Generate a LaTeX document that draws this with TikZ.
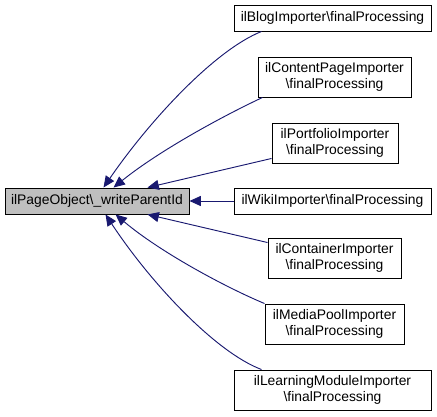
\documentclass[tikz,border=0pt]{standalone}
\usepackage{fontspec}
\setmainfont{Liberation Sans}
\usetikzlibrary{arrows.meta, calc}
\definecolor{edgeblue}{RGB}{25,25,112}

\begin{document}
\begin{tikzpicture}[
      x=0.75pt, y=-0.75pt,
      box/.style={rectangle, draw=black, line width=0.7pt, fill=white, align=center, inner sep=0pt, font=\fontsize{10.4}{11.5}\selectfont},
      rootbox/.style={box, fill=black!25},
      onebox/.style={box, minimum height=19.5pt},
      twobox/.style={box, minimum height=30pt},
      arrow/.style={{Triangle[length=8.5pt, width=7.5pt]}-, draw=edgeblue, line width=0.7pt}
      ]
      \useasboundingbox (0,0) rectangle (437,417);

      % Called function
      \node[rootbox, minimum width=138pt, minimum height=19.5pt] (root) at (97,201) {ilPageObject\textbackslash\_writeParentId};

      % Callers
      \node[onebox, minimum width=147.75pt] (blog) at (332.5,18) {ilBlogImporter\textbackslash finalProcessing};
      \node[twobox, minimum width=114.75pt] (content) at (334.5,77) {ilContentPageImporter\\\textbackslash finalProcessing};
      \node[twobox, minimum width=94.5pt] (portfolio) at (335,143) {ilPortfolioImporter\\\textbackslash finalProcessing};
      \node[onebox, minimum width=147.75pt] (wiki) at (332.5,201) {ilWikiImporter\textbackslash finalProcessing};
      \node[twobox, minimum width=99.75pt] (container) at (334.5,258) {ilContainerImporter\\\textbackslash finalProcessing};
      \node[twobox, minimum width=104.25pt] (mediapool) at (334.5,324) {ilMediaPoolImporter\\\textbackslash finalProcessing};
      \node[twobox, minimum width=147.75pt] (learning) at (332.5,390) {ilLearningModuleImporter\\\textbackslash finalProcessing};

      % Call edges
      \draw[arrow] ($(root.north west)+(99,0)$) .. controls (150,120) and (215,50) .. ($(blog.south west)+(28,0)$);
      \draw[arrow] ($(root.north west)+(109,0)$) .. controls (160,150) and (225,115) .. ($(content.south west)+(5,0)$);
      \draw[arrow] ($(root.north west)+(143,0)$) -- ($(portfolio.south west)+(0,-5)$);
      \draw[arrow] (root.east) -- (wiki.west);
      \draw[arrow] ($(root.south west)+(143,0)$) -- ($(container.north west)+(0,5)$);
      \draw[arrow] ($(root.south west)+(111,0)$) .. controls (160,252) and (225,287) .. (mediapool.north west);
      \draw[arrow] ($(root.south west)+(101,0)$) .. controls (150,282) and (215,352) .. ($(learning.north west)+(28,0)$);

   \end{tikzpicture}
\end{document}
